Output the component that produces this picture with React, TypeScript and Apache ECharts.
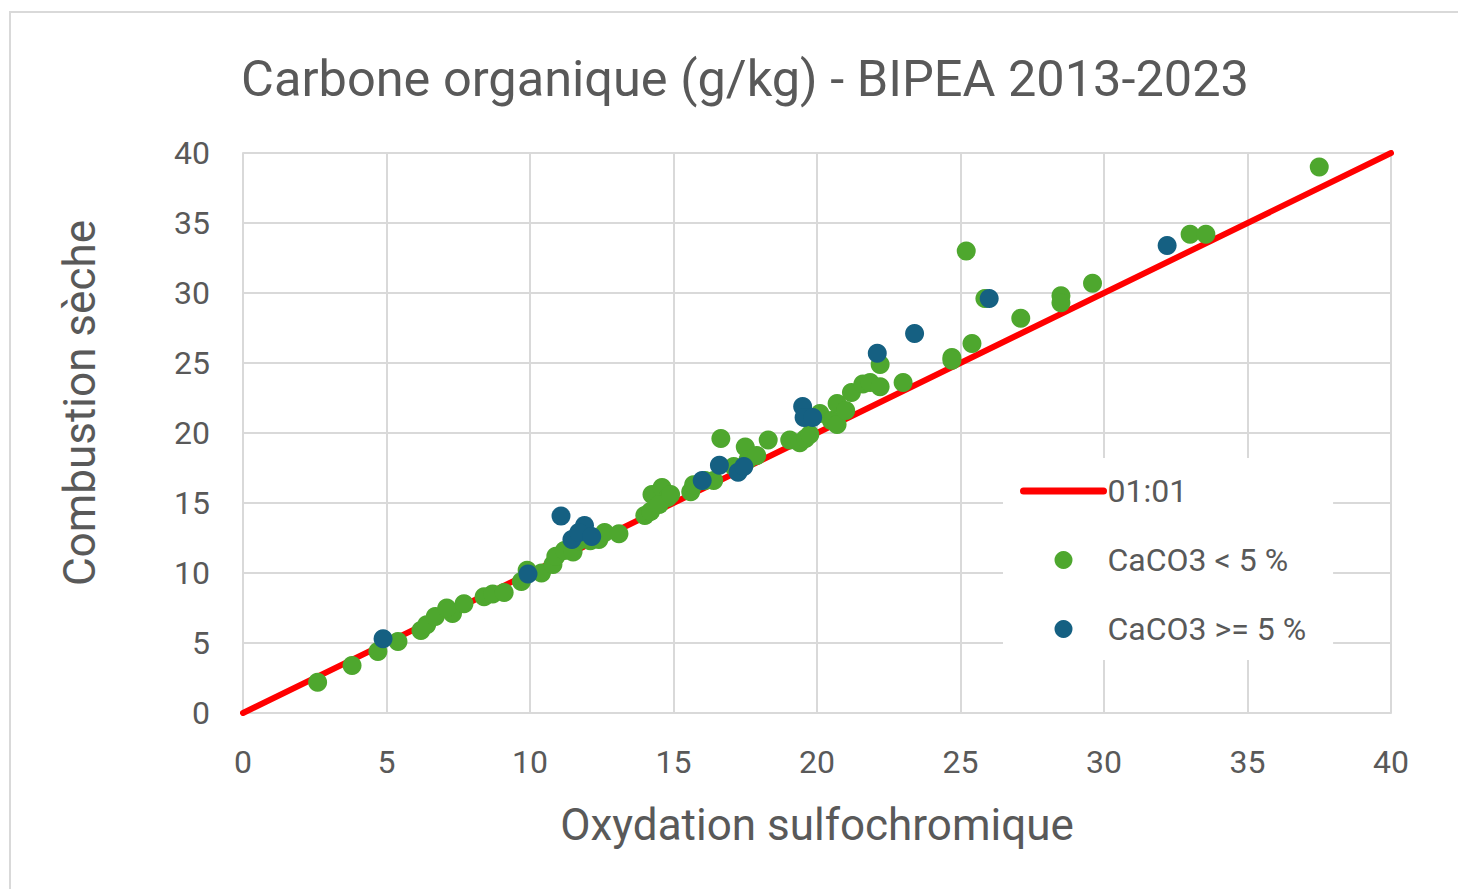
import React, { useEffect, useRef } from "react";
import * as echarts from "echarts";

const titleText = "Carbone organique (g/kg) - BIPEA 2013-2023";
const xAxisName = "Oxydation sulfochromique";
const yAxisName = "Combustion sèche";
const seriesNames = ["01:01", "CaCO3 < 5 %", "CaCO3 >= 5 %"];

const axisMin = 0;
const axisMax = 40;
const axisStep = 5;

const identityLine: [number, number][] = [
  [0, 0],
  [40, 40],
];

const lowCarbonate: [number, number][] = [
  [2.6, 2.2], [3.8, 3.4], [4.7, 4.4], [5.4, 5.1], [6.2, 5.9], [6.4, 6.3],
  [6.7, 6.9], [7.3, 7.1], [7.1, 7.5], [7.7, 7.8], [8.4, 8.3], [8.7, 8.5],
  [9.1, 8.6], [9.7, 9.4], [9.9, 10.2], [10.4, 10.0], [10.8, 10.6], [10.9, 11.2],
  [11.2, 11.6], [11.5, 11.5], [11.7, 12.3], [12.1, 12.3], [12.4, 12.4], [12.6, 12.9],
  [13.1, 12.8], [14.0, 14.1], [14.2, 14.4], [14.25, 15.6], [14.6, 16.1], [14.8, 15.4],
  [14.5, 14.9], [14.9, 15.6], [15.6, 15.8], [15.7, 16.3], [16.1, 16.6], [16.4, 16.6],
  [16.65, 19.6], [17.1, 17.6], [17.5, 19.0], [17.6, 18.1], [17.9, 18.4], [18.3, 19.5],
  [19.05, 19.5], [19.4, 19.3], [19.6, 19.6], [19.75, 19.9], [20.1, 21.4], [20.5, 20.9],
  [20.7, 20.6], [20.7, 22.1], [21.0, 21.6], [21.2, 22.9], [21.6, 23.5], [21.85, 23.6],
  [22.2, 24.9], [22.2, 23.3], [23.0, 23.6], [24.7, 25.4], [24.7, 25.2], [25.2, 33.0],
  [25.4, 26.4], [25.85, 29.6], [27.1, 28.2], [28.5, 29.8], [28.5, 29.3], [29.6, 30.7],
  [33.0, 34.2], [33.55, 34.2], [37.5, 39.0],
];

const highCarbonate: [number, number][] = [
  [4.88, 5.3], [9.93, 9.93], [11.08, 14.07], [11.46, 12.4], [11.9, 13.4], [11.7, 12.9],
  [12.15, 12.6], [16.0, 16.6], [16.6, 17.7], [17.25, 17.2], [17.45, 17.6], [19.5, 21.9],
  [19.55, 21.1], [19.85, 21.1], [22.1, 25.7], [23.4, 27.1], [26.0, 29.6], [32.2, 33.4],
];

const textColor = "#595959";
const gridColor = "#d9d9d9";
const fontFamily = "Roboto, 'Open Sans', sans-serif";

export default function App() {
  const ref = useRef<HTMLDivElement>(null);

  useEffect(() => {
    if (!ref.current) return;
    const chart = echarts.init(ref.current, undefined, { renderer: "svg" });
    chart.setOption({
      animation: false,
      backgroundColor: "#ffffff",
      textStyle: { fontFamily },
      title: {
        text: titleText,
        left: 740,
        top: 48,
        textAlign: "center",
        textStyle: { color: textColor, fontSize: 50.5, fontWeight: "normal", fontFamily },
      },
      graphic: [
        {
          type: "rect",
          shape: { x: 10, y: 12, width: 1600, height: 1000 },
          style: { fill: "none", stroke: gridColor, lineWidth: 2 },
          silent: true,
          z: -1,
        },
      ],
      grid: { left: 243, right: 67, top: 153, bottom: 176, containLabel: false },
      legend: {
        orient: "vertical",
        left: 1003,
        top: 458,
        backgroundColor: "#ffffff",
        padding: [17, 27, 15, 17],
        itemWidth: 80,
        itemHeight: 18,
        itemGap: 37,
        textStyle: { color: textColor, fontSize: 32, fontFamily, padding: [0, 0, 0, -1] },
        data: [
          {
            name: seriesNames[0],
            itemStyle: { opacity: 0 },
            lineStyle: { color: "#ff0000", width: 7, cap: "round" },
          },
          { name: seriesNames[1], icon: "circle" },
          { name: seriesNames[2], icon: "circle" },
        ],
        selectedMode: false,
        z: 10,
      },
      xAxis: {
        type: "value",
        min: axisMin,
        max: axisMax,
        interval: axisStep,
        name: xAxisName,
        nameLocation: "middle",
        nameGap: 90,
        nameTextStyle: { color: textColor, fontSize: 44, fontFamily },
        axisLine: { show: true, lineStyle: { color: gridColor, width: 2 } },
        axisTick: { show: false },
        axisLabel: { color: textColor, fontSize: 32, margin: 33, fontFamily },
        splitLine: { show: true, lineStyle: { color: gridColor, width: 2 } },
      },
      yAxis: {
        type: "value",
        min: axisMin,
        max: axisMax,
        interval: axisStep,
        name: yAxisName,
        nameLocation: "middle",
        nameGap: 141,
        nameTextStyle: { color: textColor, fontSize: 44, fontFamily, padding: [0, 0, 0, 60] },
        axisLine: { show: true, lineStyle: { color: gridColor, width: 2 } },
        axisTick: { show: false },
        axisLabel: { color: textColor, fontSize: 32, margin: 33, fontFamily },
        splitLine: { show: true, lineStyle: { color: gridColor, width: 2 } },
      },
      series: [
        {
          name: seriesNames[0],
          type: "line",
          data: identityLine,
          symbol: "none",
          lineStyle: { color: "#ff0000", width: 6, cap: "round" },
          itemStyle: { color: "#ff0000" },
          z: 1,
        },
        {
          name: seriesNames[1],
          type: "scatter",
          data: lowCarbonate,
          symbol: "circle",
          symbolSize: 19,
          itemStyle: { color: "#4ea72e", opacity: 1 },
          z: 2,
        },
        {
          name: seriesNames[2],
          type: "scatter",
          data: highCarbonate,
          symbol: "circle",
          symbolSize: 19,
          itemStyle: { color: "#156082", opacity: 1 },
          z: 3,
        },
      ],
    });
    return () => chart.dispose();
  }, []);

  return (
    <div
      ref={ref}
      style={{ position: "fixed", left: 0, top: 0, width: 1458, height: 889 }}
    />
  );
}
